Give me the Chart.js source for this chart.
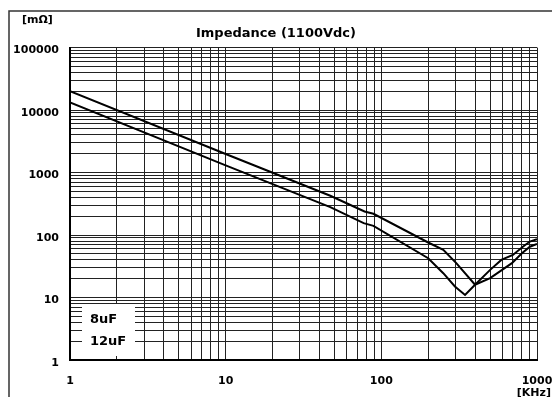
<!DOCTYPE html>
<html>
<head>
<meta charset="utf-8">
<title>Impedance (1100Vdc)</title>
<script src="https://cdn.jsdelivr.net/npm/chart.js@4.4.1/dist/chart.umd.min.js"></script>
<style>
  html, body { margin: 0; padding: 0; background: #fff; }
  #wrap { width: 552px; height: 397px; }
</style>
</head>
<body>
<div id="wrap"><canvas id="imp-chart" width="552" height="397"></canvas></div>
<script>
// impedance vs frequency, two film caps

const FREQ_8UF = [1, 10, 47, 78, 89, 200, 250, 303, 400, 500, 690, 800, 900, 1000];
const IMP_8UF  = [20000, 1980, 425, 238, 219, 76, 58, 35.5, 16, 20.4, 35.5, 51, 65, 72];

const FREQ_12UF = [1, 10, 47, 77, 89, 200, 250, 297, 345, 400, 500, 590, 700, 815, 900, 1000];
const IMP_12UF  = [13300, 1300, 280, 155, 140, 42.6, 24.5, 15, 11, 16, 27.7, 40, 48, 65.5, 78.7, 86];

const X_DECADES = [1, 10, 100, 1000];
const X_LABELS  = ["1", "10", "100", "1000"];
const Y_DECADES = [1, 10, 100, 1000, 10000, 100000];
const Y_LABELS  = ["1", "10", "100", "1000", "10000", "100000"];

const LEGEND_LABELS = ["8uF", "12uF"];

const FONT = "'DejaVu Sans', Verdana, sans-serif";

// 1..9 in every decade, no 1.5 steps
function logGrid(decades) {
  const out = [];
  for (let i = 0; i < decades.length - 1; i++) {
    for (let k = 1; k <= 9; k++) out.push({ value: decades[i] * k });
  }
  out.push({ value: decades[decades.length - 1] });
  return out;
}

function toPoints(xs, ys) {
  return xs.map((x, i) => ({ x, y: ys[i] }));
}

const decorations = {
  id: "decorations",
  beforeDraw(chart) {
    const ctx = chart.ctx;
    ctx.save();
    ctx.fillStyle = "#fff";
    ctx.fillRect(0, 0, chart.width, chart.height);
    // outer frame (top + left)
    ctx.strokeStyle = "#333";
    ctx.lineWidth = 1.5;
    ctx.beginPath();
    ctx.moveTo(9, chart.height);
    ctx.lineTo(9, 11);
    ctx.lineTo(chart.width, 11);
    ctx.stroke();
    ctx.restore();
  },
  afterDatasetsDraw(chart) {
    const ctx = chart.ctx;
    const area = chart.chartArea;
    ctx.save();
    // legend box
    const bx = area.left + 12, by = area.bottom - 56;
    ctx.fillStyle = "#fff";
    ctx.fillRect(bx, by, 53, 52);
    ctx.fillStyle = "#000";
    ctx.font = "bold 13px " + FONT;
    ctx.textAlign = "left";
    ctx.textBaseline = "middle";
    ctx.fillText(LEGEND_LABELS[0], area.left + 20, area.bottom - 40);
    ctx.fillText(LEGEND_LABELS[1], area.left + 20, area.bottom - 18);

    // units
    ctx.font = "bold 11px " + FONT;
    ctx.fillText("[mΩ]", 22, 20);
    ctx.textAlign = "right";
    ctx.fillText("[KHz]", chart.width - 1, 393);
    ctx.restore();
  }
};

const canvas = document.getElementById("imp-chart");

new Chart(canvas, {
  type: "line",
  data: {
    datasets: [
      {
        label: "8uF",
        data: toPoints(FREQ_8UF, IMP_8UF),
        borderColor: "#000",
        borderWidth: 2,
        pointRadius: 0,
        tension: 0,
        fill: false,
      },
      {
        label: "12uF",
        data: toPoints(FREQ_12UF, IMP_12UF),
        borderColor: "#000",
        borderWidth: 2,
        pointRadius: 0,
        tension: 0,
        fill: false,
      },
    ],
  },
  options: {
    responsive: false,
    maintainAspectRatio: false,
    animation: false,
    layout: { padding: 0 },
    plugins: {
      legend: { display: false },
      tooltip: { enabled: false },
      title: {
        display: true,
        text: "Impedance (1100Vdc)",
        color: "#000",
        font: { family: FONT, size: 13, weight: "bold" },
        padding: { top: 26, bottom: 6 },
      },
    },
    scales: {
      x: {
        type: "logarithmic",
        min: 1,
        max: 1000,
        afterBuildTicks: (scale) => { scale.ticks = logGrid(X_DECADES); },
        afterFit: (scale) => {
          scale.height = 37;
          // keep the plot right edge fixed, the last label may overhang
          scale.paddingLeft = 0;
          scale.paddingRight = 15;
        },
        grid: { color: "#222", lineWidth: 1, drawTicks: false },
        border: { color: "#000", width: 2 },
        ticks: {
          autoSkip: false,
          maxRotation: 0,
          padding: 15,
          color: "#000",
          font: { family: FONT, size: 11, weight: "bold" },
          callback: (v) => {
            const i = X_DECADES.indexOf(v);
            return i >= 0 ? X_LABELS[i] : "";
          },
        },
      },
      y: {
        type: "logarithmic",
        min: 1,
        max: 100000,
        afterBuildTicks: (scale) => { scale.ticks = logGrid(Y_DECADES); },
        afterFit: (scale) => { scale.width = 70; },
        grid: { color: "#222", lineWidth: 1, drawTicks: false },
        border: { color: "#000", width: 2 },
        ticks: {
          autoSkip: false,
          padding: 11,
          labelOffset: 3,
          color: "#000",
          font: { family: FONT, size: 11, weight: "bold" },
          callback: (v) => {
            const i = Y_DECADES.indexOf(v);
            return i >= 0 ? Y_LABELS[i] : "";
          },
        },
      },
    },
  },
  plugins: [decorations],
});
</script>
</body>
</html>
